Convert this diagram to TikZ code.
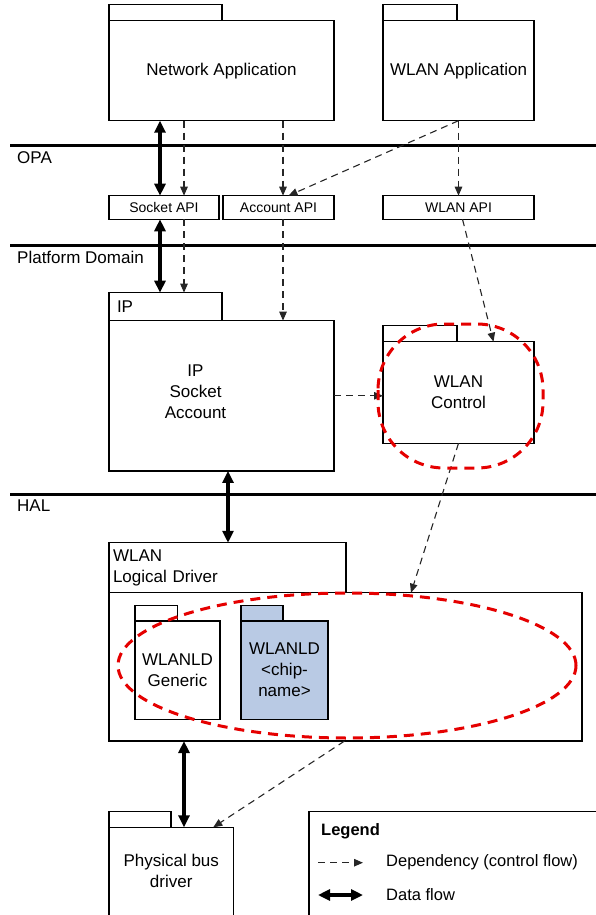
\documentclass[tikz,border=0pt]{standalone}
\usepackage{fontspec}
\setmainfont{Liberation Sans}
\usetikzlibrary{arrows.meta,positioning}

\definecolor{chipblue}{RGB}{185,202,228}

\begin{document}
\begin{tikzpicture}[
			x=1pt, y=-1pt,
			pkgnode/.style={
				rectangle,
				draw=black,
				line width=1.3pt,
				fill=white,
				outer sep=0pt,
				inner sep=2pt,
				align=center,
				font=\fontsize{17}{21}\selectfont
			},
			pkgtext/.style={
				align=center,
				inner sep=0pt,
				font=\fontsize{17}{21}\selectfont
			},
			tabnode/.style={
				rectangle,
				draw=black,
				line width=1.3pt,
				fill=white,
				outer sep=0pt,
				anchor=south west,
				inner xsep=5pt,
				inner ysep=0pt,
				align=left,
				font=\fontsize{17}{21}\selectfont
			},
			apinode/.style={
				rectangle,
				draw=black,
				line width=1.3pt,
				outer sep=0pt,
				inner sep=1pt,
				minimum height=23.6pt,
				font=\fontsize{14}{16}\selectfont
			},
			layerline/.style={
				line width=3.5pt,
				draw=black
			},
			layerlabel/.style={
				anchor=west,
				inner sep=0pt,
				font=\fontsize{17}{21}\selectfont
			},
			lgdtext/.style={
				anchor=west,
				inner sep=0pt,
				font=\fontsize{16.5}{20}\selectfont
			},
			deparrow/.style={
				-{Triangle[length=9pt,width=7.5pt]},
				line width=1.1pt,
				dash pattern=on 7pt off 5pt,
				draw=black!85
			},
			flowarrow/.style={
				{Triangle[length=12pt,width=11pt]}-{Triangle[length=12pt,width=11pt]},
				line width=3.2pt,
				draw=black
			},
			redring/.style={
				draw=red!90!black,
				line width=3pt,
				dash pattern=on 10pt off 7pt
			}
			]
			\useasboundingbox (0,0) rectangle (596,915);
			\clip (0,0) rectangle (596,915);
			
			% layers
			\draw[layerline] (10,145.7) -- (600,145.7);
			\draw[layerline] (10,245.7) -- (600,245.7);
			\draw[layerline] (10,494.3) -- (600,494.3);
			\node[layerlabel] (opa) at (17,158) {OPA};
			\node[layerlabel] (platform) at (17,257) {Platform Domain};
			\node[layerlabel] (hal) at (17,506) {HAL};
			
			% applications
			\node[pkgnode, minimum width=225pt, minimum height=100pt] (netapp) at (221.5,70.7) {Network Application};
			\node[tabnode, minimum width=113pt, minimum height=16pt] (netapptab) at (netapp.north west) {};
			\node[pkgnode, minimum width=151pt, minimum height=100pt] (wlanapp) at (458.5,70.7) {WLAN Application};
			\node[tabnode, minimum width=74pt, minimum height=16pt] (wlanapptab) at (wlanapp.north west) {};
			
			% OPA interfaces
			\node[apinode, minimum width=110pt] (socketapi) at (164,207.5) {Socket API};
			\node[apinode, minimum width=111pt, right=4pt of socketapi] (accountapi) {Account API};
			\node[apinode, minimum width=151pt] (wlanapi) at (458.5,207.5) {WLAN API};
			
			% platform domain
			\node[pkgnode, minimum width=225pt, minimum height=150.3pt,
			label={[pkgtext, xshift=-26pt, yshift=3.8pt]center:{IP\\Socket\\Account}}] (ip) at (221.5,395.8) {};
			\node[tabnode, minimum width=113pt, minimum height=28pt, text width=97pt, inner xsep=8pt] (iptab) at (ip.north west) {IP};
			\node[pkgnode, minimum width=151pt, minimum height=101.6pt] (wlanctl) at (458.5,392.5) {WLAN\\Control};
			\node[tabnode, minimum width=74pt, minimum height=16pt] (wlanctltab) at (wlanctl.north west) {};
			
			% HAL
			\node[pkgnode, minimum width=473pt, minimum height=148.3pt] (wlanld) at (345.5,666.9) {};
			\node[tabnode, minimum width=237pt, minimum height=50pt, text width=229pt, inner xsep=4pt] (wlanldtab) at (wlanld.north west) {WLAN\\Logical Driver};
			\node[pkgnode, minimum width=85pt, minimum height=98.3pt] (generic) at (177.5,670.2) {WLANLD\\Generic};
			\node[tabnode, minimum width=42.6pt, minimum height=15.7pt] (generictab) at (generic.north west) {};
			\node[pkgnode, fill=chipblue, minimum width=87pt, minimum height=98.3pt] (chip) at (284.5,670.2) {WLANLD\\<chip-\\name>};
			\node[tabnode, fill=chipblue, minimum width=42pt, minimum height=15.7pt] (chiptab) at (chip.north west) {};
			\node[pkgnode, anchor=north, minimum width=124.5pt, minimum height=110pt,
			label={[pkgtext, yshift=11.6pt]center:{Physical bus\\driver}}] (physbus) at (171.25,827.3) {};
			\node[tabnode, minimum width=62pt, minimum height=15.6pt] (physbustab) at (physbus.north west) {};
			
			% legend
			\node[pkgnode, anchor=north west, minimum width=300pt, minimum height=120pt] (legend) at (309,811.7) {};
			\node[lgdtext, font=\fontsize{16.5}{20}\selectfont\bfseries] (lgdtitle) at ([xshift=12pt, yshift=-20pt]legend.north west) {Legend};
			\node[lgdtext] (lgddep) at (386,862.7) {Dependency (control flow)};
			\node[lgdtext] (lgdflow) at (386,895) {Data flow};
			\draw[deparrow] ([xshift=-68pt]lgddep.west) -- ([xshift=-23pt]lgddep.west);
			\draw[flowarrow] ([xshift=-68pt]lgdflow.west) -- ([xshift=-23pt]lgdflow.west);
			
			% connectors
			\draw[flowarrow] ([xshift=51pt]netapp.south west) -- ([xshift=51pt]socketapi.north west);
			\draw[deparrow] ([xshift=75pt]netapp.south west) -- ([xshift=75pt]socketapi.north west);
			\draw[deparrow] ([xshift=174pt]netapp.south west) -- ([xshift=60pt]accountapi.north west);
			\draw[deparrow] (wlanapp.south) -- ([xshift=10pt]accountapi.north);
			\draw[deparrow] (wlanapp.south) -- (wlanapi.north);
			\draw[flowarrow] ([xshift=51pt]socketapi.south west) -- ([xshift=51pt]iptab.north west);
			\draw[deparrow] ([xshift=75pt]socketapi.south west) -- ([xshift=75pt]iptab.north west);
			\draw[deparrow] ([xshift=60pt]accountapi.south west) -- ([xshift=60pt]accountapi.south west |- ip.north);
			\draw[deparrow] ([xshift=4pt]wlanapi.south) -- ([xshift=35pt]wlanctl.north);
			\draw[deparrow] (ip.east) -- (ip.east -| wlanctl.west);
			\draw[flowarrow] ([xshift=6.5pt]ip.south) -- ([xshift=6.5pt]ip.south |- wlanldtab.north);
			\draw[deparrow] (wlanctl.south) -- ([xshift=65.5pt]wlanld.north);
			\draw[flowarrow] ([xshift=75pt]wlanld.south west) -- ([xshift=75pt]wlanld.south west |- physbus.north);
			\draw[deparrow] ([xshift=-1pt]wlanld.south) -- ([xshift=42pt]physbus.north);
			
			% highlights
			\draw[redring, rounded corners=66pt] (378,324) rectangle (543,468);
			\draw[redring] (347,665.5) ellipse [x radius=229pt, y radius=72.5pt];
		\end{tikzpicture}
\end{document}
